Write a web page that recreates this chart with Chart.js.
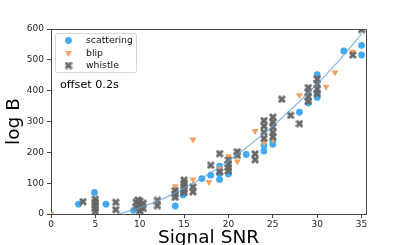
<!DOCTYPE html>
<html>
<head>
<meta charset="utf-8">
<script src="https://cdn.jsdelivr.net/npm/chart.js@4.4.0/dist/chart.umd.min.js"></script>
<style>
  html, body { margin: 0; padding: 0; background: #fff; }
  #wrap { width: 407px; height: 245px; }
</style>
</head>
<body>
<div id="wrap"><canvas id="chart" width="407" height="245"></canvas></div>
<script>
// ---------- DATOS ----------
const xTicks = [0, 5, 10, 15, 20, 25, 30, 35];
const yTicks = [0, 100, 200, 300, 400, 500, 600];

const scatteringX = [3.1, 4.9, 6.2, 9.3, 14, 14.9, 14.9, 17, 18, 19, 19, 19, 20, 22, 24, 24, 25, 25, 28, 29, 30, 30, 30, 33, 35, 35];
const scatteringY = [32, 70, 32, 12, 26, 62, 68, 115, 126, 112, 131, 155, 130, 193, 204, 222, 226, 238, 330, 360, 378, 392, 452, 529, 516, 547];

const blipX = [0, 14, 16, 16, 17.8, 19, 20, 21, 23, 24, 25, 25, 28, 31, 32, 34];
const blipY = [0, 90, 112, 242, 104, 148, 187, 170, 269, 232, 242, 292, 385, 413, 459, 526];

const whistleX = [3.6, 5, 5, 5, 5, 5, 7.3, 7.3, 9.6, 9.6, 9.8, 10, 10, 10, 10, 10.4, 10.4, 12, 12, 14, 14, 14,
    15, 15, 15, 15, 15, 16, 16, 18, 19, 19, 20, 20, 20, 20, 21, 21, 23, 23, 24, 24, 24, 24,
    25, 25, 25, 25, 25, 26, 27, 28, 29, 29, 29, 29, 30, 30, 30, 30, 34, 35];
const whistleY = [40, 48, 38, 28, 18, 8, 38, 14, 22, 38, 45, 10, 20, 30, 42, 18, 35, 44, 27, 76, 65, 54,
    110, 100, 90, 80, 70, 88, 72, 158, 196, 137, 175, 162, 150, 140, 202, 190, 195, 176, 303, 285, 265, 245,
    314, 298, 282, 265, 250, 372, 320, 293, 410, 395, 380, 365, 438, 422, 405, 390, 516, 598];

// curva de ajuste
const curvaX = [7.5, 10, 12.5, 15, 17.5, 20, 22.5, 25, 27.5, 30, 32.5, 35];
const curvaY = [0, 20, 48, 84, 125, 172, 226, 285, 351, 422, 499, 584];

const anotacion = 'offset 0.2s';

// ---------- MARCADOR EN FORMA DE X ----------
function crearEquis(tam, color) {
    const c = document.createElement('canvas');
    c.width = tam;
    c.height = tam;
    const g = c.getContext('2d');
    const h = tam / 2;
    const pts = [[-0.5, -0.25], [-0.25, -0.5], [0, -0.25], [0.25, -0.5], [0.5, -0.25], [0.25, 0],
        [0.5, 0.25], [0.25, 0.5], [0, 0.25], [-0.25, 0.5], [-0.5, 0.25], [-0.25, 0]];
    g.fillStyle = color;
    g.beginPath();
    pts.forEach((p, i) => {
        const px = h + p[0] * tam, py = h + p[1] * tam;
        if (i === 0) g.moveTo(px, py); else g.lineTo(px, py);
    });
    g.closePath();
    g.fill();
    return c;
}

const unir = (xs, ys) => xs.map((x, i) => ({ x: x, y: ys[i] }));

// ---------- MARCO Y LEYENDA ----------
const marcoYLeyenda = {
    id: 'marcoYLeyenda',
    afterDraw(chart) {
        const ctx = chart.ctx;
        const a = chart.chartArea;
        ctx.save();

        // lados de arriba y derecha
        ctx.strokeStyle = '#444';
        ctx.lineWidth = 1;
        ctx.beginPath();
        ctx.moveTo(a.left, a.top + 0.5);
        ctx.lineTo(a.right + 0.5, a.top + 0.5);
        ctx.lineTo(a.right + 0.5, a.bottom);
        ctx.stroke();

        // caja
        const bx = 55.5, by = 33.5, bw = 81, bh = 39;
        ctx.beginPath();
        ctx.roundRect(bx, by, bw, bh, 2);
        ctx.fillStyle = 'rgba(255,255,255,0.8)';
        ctx.fill();
        ctx.strokeStyle = '#d6d6d6';
        ctx.stroke();

        // entradas
        const filas = [40.5, 53, 65.5];
        ctx.font = '9.3px "DejaVu Sans"';
        ctx.textBaseline = 'middle';
        ctx.textAlign = 'left';
        for (let i = 0; i < 3; i++) {
            const ds = chart.data.datasets[i];
            ctx.fillStyle = ds.backgroundColor;
            Chart.helpers.drawPoint(ctx, {
                pointStyle: ds.pointStyle,
                rotation: ds.rotation || 0,
                radius: ds.pointRadius,
                borderWidth: 0
            }, 68.5, filas[i]);
            ctx.fillStyle = '#111';
            ctx.fillText(ds.label, 86, filas[i] + 0.5);
        }

        // texto de anotación
        ctx.font = '11.2px "DejaVu Sans"';
        ctx.fillStyle = '#000';
        ctx.fillText(anotacion, 60, 85);
        ctx.restore();
    }
};

// ---------- GRÁFICA ----------
const fuenteTicks = { family: 'DejaVu Sans', size: 9 };
const fuenteTitulo = { family: 'DejaVu Sans', size: 18.5 };

new Chart(document.getElementById('chart'), {
    type: 'scatter',
    data: {
        datasets: [
            {
                label: 'scattering',
                data: unir(scatteringX, scatteringY),
                backgroundColor: '#42aaf5',
                borderWidth: 0,
                pointRadius: 3.4,
                pointStyle: 'circle',
                clip: 0,
                order: 3
            },
            {
                label: 'blip',
                data: unir(blipX, blipY),
                backgroundColor: '#f5a262',
                borderWidth: 0,
                pointRadius: 4,
                pointStyle: 'triangle',
                rotation: 180,
                clip: 0,
                order: 2
            },
            {
                label: 'whistle',
                data: unir(whistleX, whistleY),
                backgroundColor: '#666666',
                borderWidth: 0,
                pointRadius: 4,
                pointStyle: crearEquis(8, '#676767'),
                clip: 0,
                order: 1
            },
            {
                label: 'ajuste',
                type: 'line',
                data: unir(curvaX, curvaY),
                borderColor: 'rgba(100,165,215,0.75)',
                borderWidth: 1.3,
                pointRadius: 0,
                cubicInterpolationMode: 'monotone',
                fill: false,
                clip: 0,
                order: 0
            }
        ]
    },
    options: {
        responsive: false,
        animation: false,
        layout: { padding: { left: 0, right: 41, top: 29, bottom: 0 } },
        plugins: {
            legend: { display: false },
            tooltip: { enabled: false }
        },
        scales: {
            x: {
                type: 'linear',
                min: 0,
                max: 35.5,
                afterFit: s => { s.height = 31; },
                afterBuildTicks: s => { s.ticks = xTicks.map(v => ({ value: v })); },
                grid: { drawOnChartArea: false, tickLength: 4, color: '#444' },
                border: { color: '#444' },
                ticks: { font: fuenteTicks, color: '#222', padding: 1, maxRotation: 0 },
                title: { display: true, text: 'Signal SNR', font: fuenteTitulo, color: '#000', padding: { top: 0, bottom: -4 } }
            },
            y: {
                min: 0,
                max: 600,
                afterFit: s => { s.width = 51; },
                afterBuildTicks: s => { s.ticks = yTicks.map(v => ({ value: v })); },
                grid: { drawOnChartArea: false, tickLength: 4, color: '#444' },
                border: { color: '#444' },
                ticks: { font: fuenteTicks, color: '#222', padding: 3 },
                title: { display: true, text: 'log B', font: fuenteTitulo, color: '#000', padding: { top: 3, bottom: 0 } }
            }
        }
    },
    plugins: [marcoYLeyenda]
});
</script>
</body>
</html>
